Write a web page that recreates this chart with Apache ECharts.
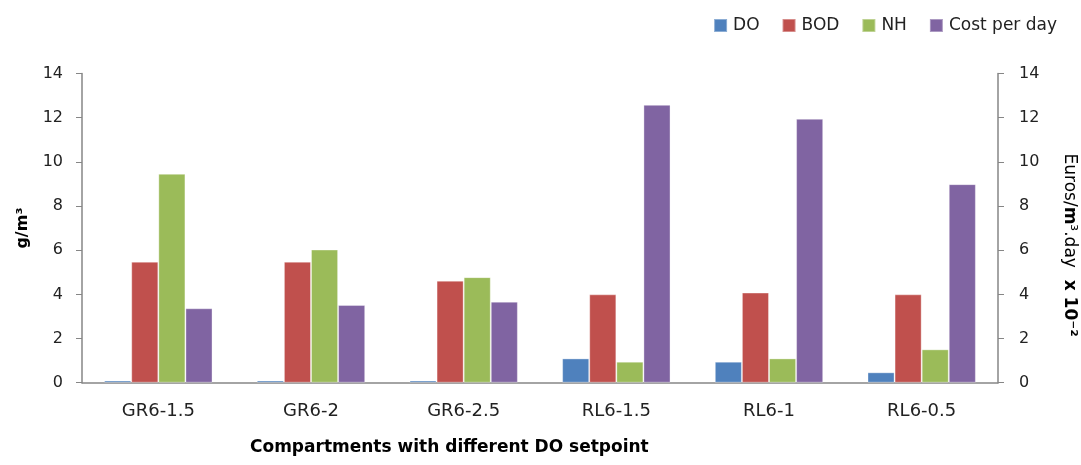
<!DOCTYPE html>
<html>
<head>
<meta charset="utf-8">
<script src="https://cdn.jsdelivr.net/npm/echarts@6/dist/echarts.min.js"></script>
<style>
html,body{margin:0;padding:0;background:#fff;}
#c{width:1081px;height:465px;}
</style>
</head>
<body>
<div id="c"></div>
<script>
const categories = ['GR6-1.5', 'GR6-2', 'GR6-2.5', 'RL6-1.5', 'RL6-1', 'RL6-0.5'];
const doValues = [0.1, 0.1, 0.1, 1.1, 0.95, 0.47];
const bodValues = [5.48, 5.48, 4.62, 4.0, 4.08, 4.0];
const nhValues = [9.46, 6.03, 4.78, 0.95, 1.1, 1.51];
const costValues = [3.37, 3.52, 3.67, 12.58, 11.95, 8.99];
const yTicks = [0, 2, 4, 6, 8, 10, 12, 14];

const font = 'DejaVu Sans';
const chart = echarts.init(document.getElementById('c'));
const barStyle = (c) => ({ color: c, borderColor: 'rgba(255,255,255,0.35)', borderWidth: 1 });
const axisCommon = {
  type: 'value',
  min: yTicks[0],
  max: yTicks[yTicks.length - 1],
  interval: 2,
  axisLine: { show: true, lineStyle: { color: '#868686', width: 1.5 } },
  axisTick: { show: true, length: 6, lineStyle: { color: '#868686' } },
  splitLine: { show: false },
  axisLabel: { fontFamily: font, fontSize: 16, color: '#222' },
  nameLocation: 'middle'
};
chart.setOption({
  animation: false,
  textStyle: { fontFamily: font },
  legend: {
    right: 19, top: 12,
    itemWidth: 13, itemHeight: 13, itemGap: 22,
    icon: 'rect',
    textStyle: { fontFamily: font, fontSize: 17, color: '#222', padding: [0, 0, 0, 1] },
    data: ['DO', 'BOD', 'NH', 'Cost per day']
  },
  grid: { left: 82, right: 83, top: 73.5, bottom: 82.3, outerBoundsMode: 'none', containLabel: false },
  xAxis: {
    type: 'category',
    data: categories,
    axisLine: { lineStyle: { color: '#868686', width: 1.5 } },
    axisTick: { show: false },
    axisLabel: { fontFamily: font, fontSize: 18, color: '#222', margin: 20 }
  },
  yAxis: [
    Object.assign({}, axisCommon, {
      position: 'left',
      axisLabel: Object.assign({}, axisCommon.axisLabel, { margin: 19 }),
      name: 'g/m³',
      nameGap: 51,
      nameTextStyle: { fontFamily: font, fontSize: 16, fontWeight: 'bold', color: '#000' }
    }),
    Object.assign({}, axisCommon, {
      position: 'right',
      axisLabel: Object.assign({}, axisCommon.axisLabel, { margin: 21 }),
      name: '{n|Euros/}{b|m}{n|³.day}{b|  x 10⁻²}',
      nameRotate: -90,
      nameGap: 63,
      nameTextStyle: {
        fontFamily: font, fontSize: 17, color: '#000',
        padding: [0, 0, 0, 34],
        rich: {
          n: { fontFamily: font, fontSize: 17, color: '#000' },
          b: { fontFamily: font, fontSize: 17, fontWeight: 'bold', color: '#000' }
        }
      }
    })
  ],
  graphic: [{
    type: 'text', left: 250, top: 439,
    style: { text: 'Compartments with different DO setpoint', fontFamily: font, fontSize: 17, fontWeight: 'bold', fill: '#000' }
  }],
  series: [
    { name: 'DO', type: 'bar', data: doValues, itemStyle: barStyle('#4F81BD'), barGap: '0%', barCategoryGap: '29%' },
    { name: 'BOD', type: 'bar', data: bodValues, itemStyle: barStyle('#C0504D') },
    { name: 'NH', type: 'bar', data: nhValues, itemStyle: barStyle('#9BBB59') },
    { name: 'Cost per day', type: 'bar', yAxisIndex: 1, data: costValues, itemStyle: barStyle('#8064A2') }
  ]
});
</script>
</body>
</html>
